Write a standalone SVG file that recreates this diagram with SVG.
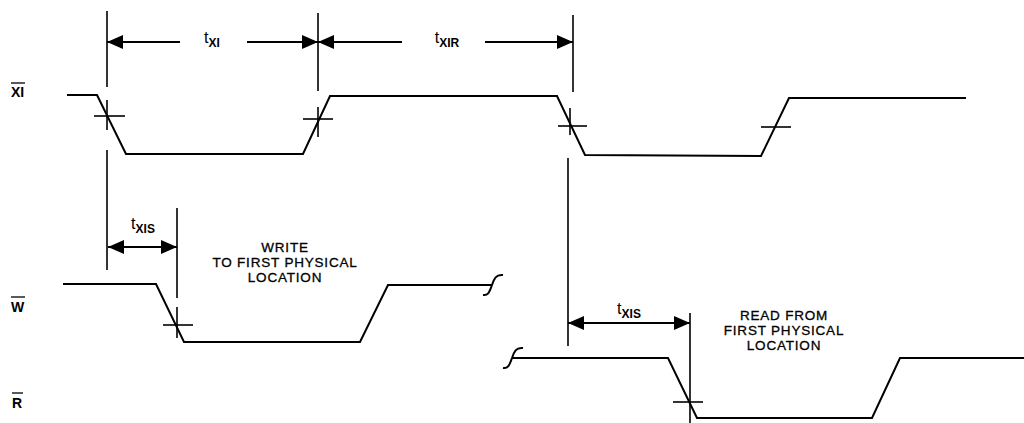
<svg xmlns="http://www.w3.org/2000/svg" width="1024" height="423" viewBox="0 0 1024 423">
  <style>
    .wave { fill: none; stroke: #000; stroke-width: 2; stroke-linejoin: miter; }
    .ext { fill: none; stroke: #000; stroke-width: 1.6; }
    .dim { fill: none; stroke: #000; stroke-width: 1.8; }
    .tick { fill: none; stroke: #000; stroke-width: 1.6; }
    .sig { font-family: "Liberation Sans", Arial, sans-serif; font-size: 14px; font-weight: bold; fill: #000; }
    .tm { font-family: "Liberation Sans", Arial, sans-serif; font-size: 16px; fill: #000; text-anchor: middle; }
    .tm .sub { font-size: 12px; font-weight: bold; }
    .note { font-family: "Liberation Sans", Arial, sans-serif; font-size: 13.5px; letter-spacing: 0.8px; fill: #000; text-anchor: middle; stroke: #000; stroke-width: 0.3; }
  </style>
  <defs>
    <marker id="arr" viewBox="0 0 16 14" refX="16" refY="7" markerWidth="16" markerHeight="14" markerUnits="userSpaceOnUse" orient="auto-start-reverse">
      <path d="M0,0 L16,7 L0,14 z" fill="#000"/>
    </marker>
  </defs>

  <!-- Signal labels -->
  <g id="label-XI">
    <text class="sig" x="11" y="97">XI</text>
    <line x1="11" y1="83" x2="25" y2="83" stroke="#000" stroke-width="1.3"/>
  </g>
  <g id="label-W">
    <text class="sig" x="11" y="312">W</text>
    <line x1="11" y1="297" x2="25" y2="297" stroke="#000" stroke-width="1.3"/>
  </g>
  <g id="label-R">
    <text class="sig" x="12" y="408">R</text>
    <line x1="12" y1="393" x2="23" y2="393" stroke="#000" stroke-width="1.3"/>
  </g>

  <!-- Waveforms -->
  <g id="wave-XI">
    <polyline class="wave" points="67,95 97,95 126,154 303,154 330,96 557,96 585,155 761,156 789,98 966,98"/>
    <line class="tick" x1="94" y1="116" x2="125" y2="116"/>
    <line class="tick" x1="107" y1="100" x2="107" y2="130"/>
    <line class="tick" x1="303" y1="119" x2="333" y2="119"/>
    <line class="tick" x1="318" y1="107" x2="318" y2="137"/>
    <line class="tick" x1="558" y1="126" x2="587" y2="126"/>
    <line class="tick" x1="570" y1="108" x2="570" y2="135"/>
    <line class="tick" x1="761" y1="127" x2="791" y2="127"/>
  </g>
  <g id="wave-W">
    <polyline class="wave" points="63,284 156,284 184,342 360,342 388,285 492,285"/>
    <path class="wave" d="M483,295 C489,296 490,290 492,285 C494,279 496,274 503,275"/>
    <line class="tick" x1="163" y1="325" x2="193" y2="325"/>
    <line class="tick" x1="177" y1="307" x2="177" y2="338"/>
  </g>
  <g id="wave-R">
    <path class="wave" d="M503,368 C509,369 510,363 512,358 C514,352 516,347 523,348"/>
    <polyline class="wave" points="512,358 668,358 697,418 872,418 900,358 1024,358"/>
    <line class="tick" x1="673" y1="402" x2="703" y2="402"/>
  </g>

  <!-- Timing dimensions (connectors) -->
  <g id="connectors">
    <line class="ext" x1="107" y1="11" x2="107" y2="87"/>
    <line class="ext" x1="107" y1="150" x2="107" y2="270"/>
    <line class="ext" x1="318" y1="13" x2="318" y2="91"/>
    <line class="ext" x1="573" y1="15" x2="573" y2="92"/>
    <line class="ext" x1="568" y1="158" x2="568" y2="346"/>
    <line class="ext" x1="177" y1="208" x2="177" y2="298"/>
    <line class="ext" x1="690" y1="313" x2="690" y2="423"/>

    <line class="dim" x1="180" y1="42" x2="107" y2="42" marker-end="url(#arr)"/>
    <line class="dim" x1="247" y1="42" x2="318" y2="42" marker-end="url(#arr)"/>
    <line class="dim" x1="402" y1="42" x2="318" y2="42" marker-end="url(#arr)"/>
    <line class="dim" x1="485" y1="42" x2="573" y2="42" marker-end="url(#arr)"/>
    <line class="dim" x1="108" y1="247" x2="177" y2="247" marker-start="url(#arr)" marker-end="url(#arr)"/>
    <line class="dim" x1="568" y1="323" x2="690" y2="323" marker-start="url(#arr)" marker-end="url(#arr)"/>
  </g>

  <!-- Timing labels -->
  <g id="timing-labels">
    <text class="tm" x="212" y="43">t<tspan class="sub" dy="4">XI</tspan></text>
    <text class="tm" x="447" y="43">t<tspan class="sub" dy="4">XIR</tspan></text>
    <text class="tm" x="143" y="229">t<tspan class="sub" dy="4">XIS</tspan></text>
    <text class="tm" x="629" y="314">t<tspan class="sub" dy="4">XIS</tspan></text>
  </g>

  <!-- Notes -->
  <g id="note-write">
    <text class="note" x="285" y="251.5">WRITE</text>
    <text class="note" x="285" y="266.7">TO FIRST PHYSICAL</text>
    <text class="note" x="285" y="281.9">LOCATION</text>
  </g>
  <g id="note-read">
    <text class="note" x="784" y="319.5">READ FROM</text>
    <text class="note" x="784" y="334.7">FIRST PHYSICAL</text>
    <text class="note" x="784" y="349.9">LOCATION</text>
  </g>
</svg>
